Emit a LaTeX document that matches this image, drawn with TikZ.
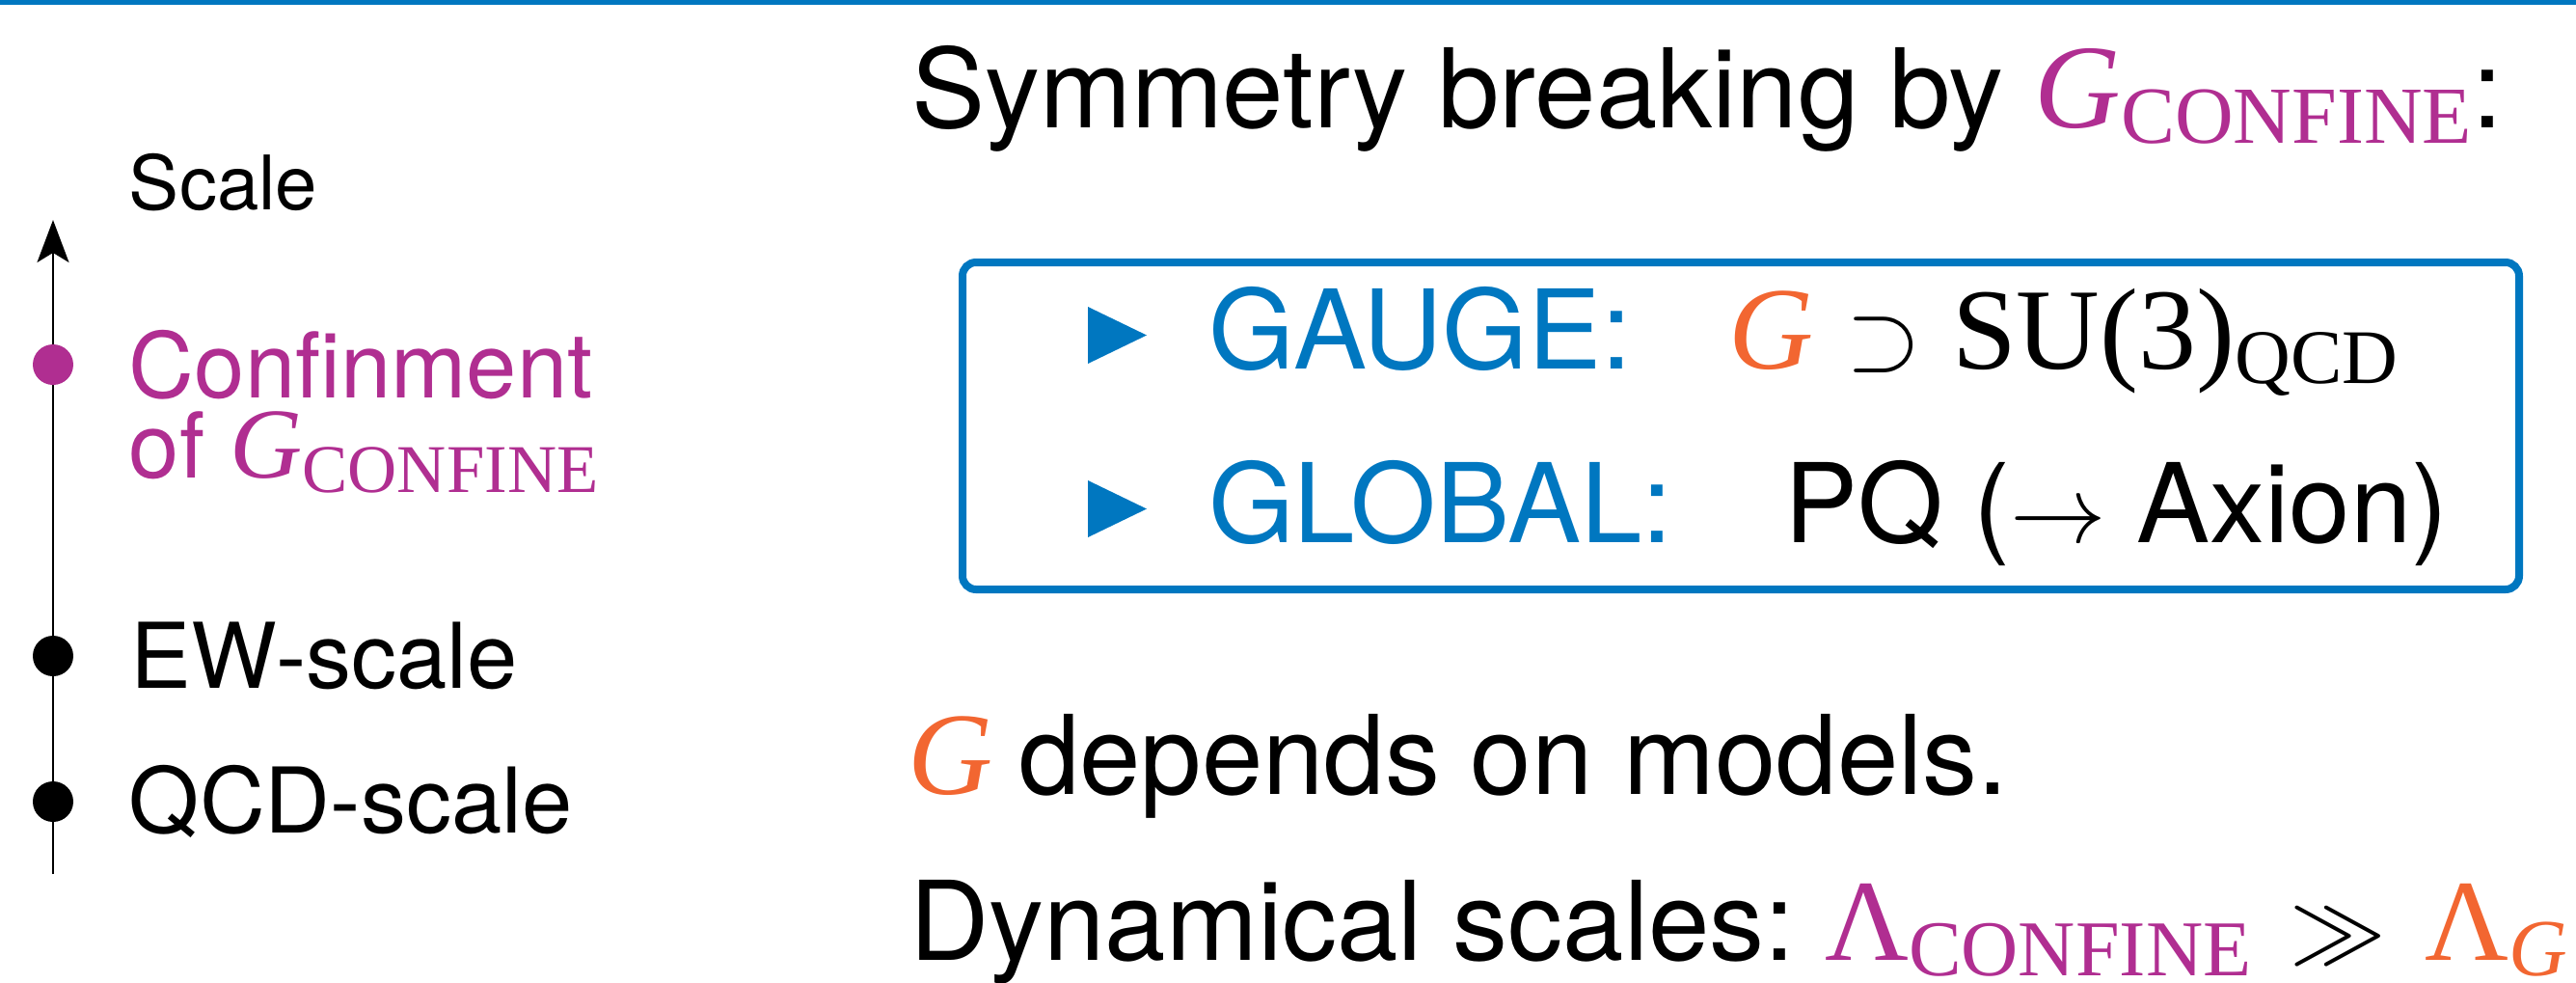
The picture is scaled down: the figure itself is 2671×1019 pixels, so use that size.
\documentclass[tikz,border=0pt]{standalone}
\usepackage{fontspec}
\setmainfont{TeX Gyre Heros}
\newfontfamily\tms{Liberation Serif}
\usetikzlibrary{arrows.meta}
\definecolor{cblue}{HTML}{0077C0}
\definecolor{cmag}{HTML}{B02E91}
\definecolor{corange}{HTML}{F26631}
\newcommand\fsz[1]{\fontsize{#1}{#1}\selectfont}
\begin{document}
\begin{tikzpicture}[x=0.25pt,y=-0.25pt,
  txt/.style={anchor=base west, inner sep=0pt, outer sep=0pt},
  big/.style={txt, font=\fsz{28.5}},
  side/.style={txt, font=\fsz{23.5}},
  dot/.style={circle, fill, inner sep=0pt, minimum size=10.5pt},
  frame/.style={draw=cblue, line width=2pt, rounded corners=3.5pt, inner sep=0pt,
    minimum width=403.5pt, minimum height=84.75pt},
  tri/.style={fill=cblue}]
\useasboundingbox (0,0) rectangle (2671,1019);
% top rule
\fill[cblue] (0,0) rectangle (2671,4.5);
% scale axis
\coordinate (axbot) at (55,906);
\coordinate (axtop) at (55,228);
\draw[line width=0.5pt, -{Stealth[length=11pt, width=8.25pt, inset=2.5pt]}] (axbot) -- (axtop);
\node[dot, cmag] (dconf) at (55,378) {};
\node[dot, black] (dew) at (55,680) {};
\node[dot, black] (dqcd) at (55,831) {};
\node[txt, font=\fsz{19.5}] (scale) at (134,217) {Scale};
\node[side, cmag, text depth=0pt] (conf1) at (134,412) {Confinment};
\node[side, cmag] (conf2) at (134,495) {of {\tms\fsz{26}\itshape G\raisebox{-3.75pt}{\upshape\fsz{17.7}CONFINE}}};
\node[side] (ew) at (136,713) {EW-scale};
\node[side] (qcd) at (134,863) {QCD-scale};
% right column
\node[big] (title) at (945,132) {Symmetry breaking by {\color{cmag}\tms\fsz{31}\itshape G\raisebox{-4pt}{\upshape\fsz{21}CONFINE}}:};
\node[frame] (box) at (1805,441.5) {};
\fill[tri] (1128,318) -- (1189,347.5) -- (1128,377) -- cycle;
\fill[tri] (1128,498) -- (1189,527.5) -- (1128,557) -- cycle;
\node[big, cblue] (gauge) at (1253,382) {GAUGE:};
\node[txt, corange, font=\tms\fsz{30.5}\itshape] (gG) at (1792,382) {G};
\node[txt, font=\fsz{25}] (supset) at (1914,382) {$\supset$};
\node[txt, font=\tms\fsz{30}] (su) at (2024,382) {SU(3)\raisebox{-3.75pt}{\fsz{20}QCD}};
\node[big, cblue] (global) at (1253,562) {GLOBAL:};
\node[big] (pq) at (1850,562) {PQ ($\rightarrow$ Axion)};
\node[txt, corange, font=\tms\fsz{30.5}\itshape] (gdep) at (941,823) {G};
\node[big] (dep) at (1056,823) {depends on models.};
\node[big] (dyn) at (943,995) {Dynamical scales:};
\node[txt, cmag, font=\tms\fsz{30}] (lam1) at (1892,995) {Λ\raisebox{-4pt}{\fsz{20.5}CONFINE}};
\node[txt, font=\fsz{26}] (gg) at (2374,995) {$\gg$};
\node[txt, corange, font=\tms\fsz{30}] (lam2) at (2514,995) {Λ\raisebox{-4pt}{\fsz{21}\itshape G}};
\end{tikzpicture}
\end{document}
